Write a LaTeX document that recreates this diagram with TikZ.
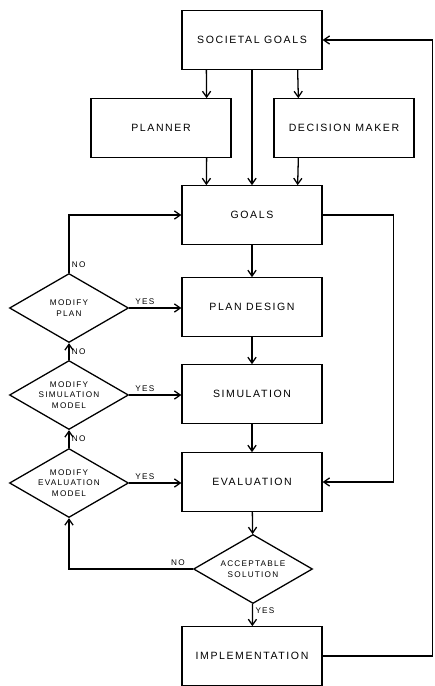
\documentclass[tikz,border=0pt]{standalone}
\usepackage{fontspec}
\setmainfont{Liberation Sans}[LetterSpace=15]
\usetikzlibrary{shapes.geometric,arrows.meta}

\begin{document}
\begin{tikzpicture} [x=0.03cm,y=-0.03cm,line width=1.1pt,
  box/.style={draw,minimum width=4.2cm,minimum height=1.75cm,font=\fontsize{9}{10}\selectfont},
  dia/.style={diamond,draw,aspect=1.7,inner sep=0pt,minimum width=3.57cm,minimum height=2.07cm,align=center,font=\fontsize{7}{9}\selectfont},
  lbl/.style={font=\fontsize{7}{8}\selectfont,inner sep=2pt},
  >={Straight Barb[length=5pt,width=7pt]}]
\useasboundingbox (0,0) rectangle (434,686);
\node [box] (sg) at (252,40) {SOCIETAL GOALS};
\node [box] (pl) at (161,128) {PLANNER};
\node [box] (dm) at (344,128) {DECISION MAKER};
\node [box] (go) at (252,215) {GOALS};
\node [box] (pd) at (252,307) {PLAN DESIGN};
\node [box] (si) at (252,394) {SIMULATION};
\node [box] (ev) at (252,482) {EVALUATION};
\node [dia] (as) at (253,569) {ACCEPTABLE\\SOLUTION};
\node [box] (im) at (252,656) {IMPLEMENTATION};
\node [dia] (mp) at (69,308) {MODIFY\\PLAN};
\node [dia] (ms) at (69,395) {MODIFY\\SIMULATION\\MODEL};
\node [dia] (me) at (69,483) {MODIFY\\EVALUATION\\MODEL};

\draw [->] ([xshift=.75cm]sg.south west) -- ([xshift=-.75cm]pl.north east);
\draw [->] (sg.south) -- (go.north);
\draw [->] ([xshift=-.75cm]sg.south east) -- ([xshift=.75cm]dm.north west);
\draw [->] ([xshift=-.75cm]pl.south east) -- ([xshift=.75cm]go.north west);
\draw [->] ([xshift=.75cm]dm.south west) -- ([xshift=-.75cm]go.north east);
\draw [->] (go) -- (pd);
\draw [->] (pd) -- (si);
\draw [->] (si) -- (ev);
\draw [->] (ev) -- (as);
\draw [->] (as) -- node [lbl,right,pos=.3] {YES} (im);
\draw [->] (go.east) -- ++(71,0) |- (ev.east);
\draw [->] (im.east) -- ++(110,0) |- (sg.east);
\draw [->] (mp.east) -- node [lbl,above,pos=.3] {YES} (mp.east -| pd.west);
\draw [->] (ms.east) -- node [lbl,above,pos=.3] {YES} (ms.east -| si.west);
\draw [->] (me.east) -- node [lbl,above,pos=.3] {YES} (me.east -| ev.west);
\draw [->] (mp.north) |- node [lbl,right,pos=.07] {NO} (go.west);
\draw [->] (ms.north) -- node [lbl,right] {NO} (mp.south);
\draw [->] (me.north) -- node [lbl,right] {NO} (ms.south);
\draw [->] (as.west) -| node [lbl,above,pos=.06] {NO} (me.south);
\end{tikzpicture}
\end{document}
